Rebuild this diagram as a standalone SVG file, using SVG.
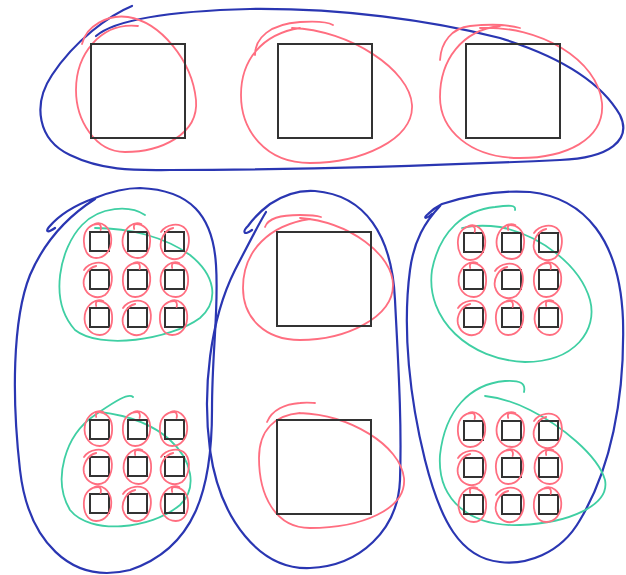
<svg xmlns="http://www.w3.org/2000/svg" xmlns:xlink="http://www.w3.org/1999/xlink" width="626" height="575" viewBox="0 0 626 575">
<style>
.sq{fill:none;stroke:#333;stroke-width:2}
.b{fill:none;stroke:#2a36b2;stroke-width:2.2;stroke-linecap:round;stroke-linejoin:round}
.r{fill:none;stroke:#ff6e80;stroke-width:1.8;stroke-linecap:round}
.t{fill:none;stroke:#3fcfa3;stroke-width:1.8;stroke-linecap:round}
</style>
<defs>
<path id="sl1" class="r" d="M-3.5,-17 C3.5,-20 12.3,-14 13.2,-3 C14,9 7,17 -1.8,17 C-10.6,17 -15,8 -14,-3 C-13.2,-12 -7,-17 0,-17 C2.6,-17 3.5,-14 2.6,-11"/>
<path id="sl2" class="r" d="M-14,-10 C-8.8,-18 4.4,-20 10.6,-13 C15.8,-6 15,8 7,15 C-0.9,20 -11.4,16 -14,6 C-15.8,-2 -10.6,-12 -1.8,-14"/>
<path id="sl3" class="r" d="M5.3,-17 C-1.8,-20 -11.4,-14 -13.2,-3 C-15,9 -7,17 1.8,17 C10.6,17 15,8 14,-3 C13.2,-12 7,-17 0,-17 C-1.8,-17 -2.6,-15 -1.8,-12"/>
</defs>
<rect width="626" height="575" fill="#fff"/>

<g id="connectors">
<!-- blue groupings -->
<path class="b" d="M132,6 C110,15 75,40 52,75 C32,105 38,140 70,155 C105,172 140,170 170,170 C300,170 450,165 560,160 C610,158 632,140 620,115 C600,80 555,55 500,38 C430,20 340,8 250,9 C170,11 115,20 96,36"/>
<path class="b" d="M55,228 C48,233 45,232 49,227 C60,214 78,204 95,198 C110,192 125,188 140,188 C190,190 213,215 216,265 C219,310 212,350 212,410 C212,490 195,548 130,570 C70,585 28,540 20,470 C12,400 12,320 30,275 C45,240 70,215 95,199"/>
<path class="b" d="M252,230 C244,236 242,232 248,226 C255,216 262,210 270,204 C285,194 300,190 315,191 C365,195 392,235 395,300 C398,360 402,420 400,480 C398,530 360,566 310,568 C260,570 220,520 210,450 C202,390 210,320 235,270 C248,245 258,225 266,212"/>
<path class="b" d="M432,214 C425,220 423,218 428,214 C432,210 436,207 442,204 C470,195 500,190 530,192 C585,198 620,240 623,320 C625,400 610,470 580,520 C560,555 525,565 500,562 C460,558 440,520 425,460 C410,400 402,330 410,270 C414,240 425,222 440,206"/>
<!-- teal groupings -->
<path class="t" d="M145,215 C130,205 100,206 82,225 C60,248 48,300 75,330 C100,350 170,340 200,318 C220,300 215,275 190,255 C165,237 130,228 95,228"/>
<path class="t" d="M133,397 C128,392 110,405 95,415 C65,435 52,480 70,510 C90,535 150,530 180,505 C198,488 192,460 170,440 C150,422 125,415 100,412"/>
<path class="t" d="M515,210 C516,205 510,205 495,207 C465,210 440,230 432,270 C425,320 470,360 525,362 C575,362 598,330 590,300 C580,265 540,235 500,227 C485,225 470,226 462,228"/>
<path class="t" d="M524,392 C526,383 520,380 505,381 C470,384 445,410 440,455 C437,500 470,527 520,525 C570,523 610,505 605,480 C598,455 560,425 530,410 C510,400 495,397 485,396"/>
<!-- red big loops -->
<path class="r" d="M82,44 C86,26 108,14 128,17 C160,22 192,60 196,100 C199,135 160,152 125,152 C95,152 76,120 76,90 C76,55 100,22 138,26"/>
<path class="r" d="M255,55 C255,38 270,24 300,22 C315,21 328,22 333,25 M292,28 C350,30 410,70 412,105 C414,140 360,163 310,163 C265,163 241,130 241,95 C241,60 262,34 300,28"/>
<path class="r" d="M440,60 C441,42 452,28 470,26 C490,24 510,25 520,28 M480,28 C540,25 598,60 602,103 C605,140 565,158 520,158 C470,158 440,130 440,97 C440,60 462,30 500,26"/>
<path class="r" d="M265,227 C268,218 280,215 300,215 C310,215 318,216 321,217 M300,218 C350,222 393,255 393,285 C393,318 345,340 300,340 C265,340 243,318 243,288 C243,250 270,225 310,219"/>
<path class="r" d="M267,422 C272,410 285,404 300,403 C308,402 313,403 315,403 M300,413 C350,415 400,445 404,478 C407,510 360,528 310,528 C275,528 259,495 259,458 C259,430 275,415 300,413"/>
</g>

<g id="top-nodes">
<rect class="sq" x="91" y="44" width="94" height="94"/>
<rect class="sq" x="278" y="44" width="94" height="94"/>
<rect class="sq" x="466" y="44" width="94" height="94"/>
</g>

<g id="middle-nodes">
<rect class="sq" x="277" y="232" width="94" height="94"/>
<rect class="sq" x="277" y="420" width="94" height="94"/>
</g>

<g id="left-upper-grid">
<rect class="sq" x="90" y="232" width="19" height="19"/>
<rect class="sq" x="128" y="232" width="19" height="19"/>
<rect class="sq" x="165" y="232" width="19" height="19"/>
<rect class="sq" x="90" y="270" width="19" height="19"/>
<rect class="sq" x="128" y="270" width="19" height="19"/>
<rect class="sq" x="165" y="270" width="19" height="19"/>
<rect class="sq" x="90" y="308" width="19" height="19"/>
<rect class="sq" x="128" y="308" width="19" height="19"/>
<rect class="sq" x="165" y="308" width="19" height="19"/>
<use xlink:href="#sl1" x="98" y="241"/>
<use xlink:href="#sl3" x="136" y="241"/>
<use xlink:href="#sl2" x="175" y="242"/>
<use xlink:href="#sl2" x="98" y="280"/>
<use xlink:href="#sl1" x="137" y="280"/>
<use xlink:href="#sl3" x="174" y="280"/>
<use xlink:href="#sl3" x="98" y="318"/>
<use xlink:href="#sl2" x="137" y="318"/>
<use xlink:href="#sl1" x="174" y="318"/>
</g>

<g id="left-lower-grid">
<rect class="sq" x="90" y="420" width="19" height="19"/>
<rect class="sq" x="128" y="420" width="19" height="19"/>
<rect class="sq" x="165" y="420" width="19" height="19"/>
<rect class="sq" x="90" y="457" width="19" height="19"/>
<rect class="sq" x="128" y="457" width="19" height="19"/>
<rect class="sq" x="165" y="457" width="19" height="19"/>
<rect class="sq" x="90" y="494" width="19" height="19"/>
<rect class="sq" x="128" y="494" width="19" height="19"/>
<rect class="sq" x="165" y="494" width="19" height="19"/>
<use xlink:href="#sl3" x="98" y="429"/>
<use xlink:href="#sl1" x="137" y="429"/>
<use xlink:href="#sl1" x="174" y="429"/>
<use xlink:href="#sl2" x="98" y="467"/>
<use xlink:href="#sl3" x="137" y="467"/>
<use xlink:href="#sl2" x="175" y="467"/>
<use xlink:href="#sl1" x="98" y="504"/>
<use xlink:href="#sl2" x="137" y="504"/>
<use xlink:href="#sl3" x="174" y="504"/>
</g>

<g id="right-upper-grid">
<rect class="sq" x="464" y="233" width="19" height="19"/>
<rect class="sq" x="502" y="233" width="19" height="19"/>
<rect class="sq" x="539" y="233" width="19" height="19"/>
<rect class="sq" x="464" y="270" width="19" height="19"/>
<rect class="sq" x="502" y="270" width="19" height="19"/>
<rect class="sq" x="539" y="270" width="19" height="19"/>
<rect class="sq" x="464" y="308" width="19" height="19"/>
<rect class="sq" x="502" y="308" width="19" height="19"/>
<rect class="sq" x="539" y="308" width="19" height="19"/>
<use xlink:href="#sl1" x="472" y="243"/>
<use xlink:href="#sl3" x="510" y="242"/>
<use xlink:href="#sl2" x="548" y="243"/>
<use xlink:href="#sl3" x="472" y="280"/>
<use xlink:href="#sl2" x="509" y="281"/>
<use xlink:href="#sl1" x="548" y="280"/>
<use xlink:href="#sl2" x="472" y="318"/>
<use xlink:href="#sl1" x="510" y="318"/>
<use xlink:href="#sl3" x="548" y="318"/>
</g>

<g id="right-lower-grid">
<rect class="sq" x="464" y="421" width="19" height="19"/>
<rect class="sq" x="502" y="421" width="19" height="19"/>
<rect class="sq" x="539" y="421" width="19" height="19"/>
<rect class="sq" x="464" y="458" width="19" height="19"/>
<rect class="sq" x="502" y="458" width="19" height="19"/>
<rect class="sq" x="539" y="458" width="19" height="19"/>
<rect class="sq" x="464" y="495" width="19" height="19"/>
<rect class="sq" x="502" y="495" width="19" height="19"/>
<rect class="sq" x="539" y="495" width="19" height="19"/>
<use xlink:href="#sl1" x="472" y="430"/>
<use xlink:href="#sl3" x="510" y="430"/>
<use xlink:href="#sl2" x="548" y="431"/>
<use xlink:href="#sl2" x="472" y="468"/>
<use xlink:href="#sl1" x="510" y="467"/>
<use xlink:href="#sl3" x="548" y="467"/>
<use xlink:href="#sl3" x="472" y="505"/>
<use xlink:href="#sl2" x="510" y="505"/>
<use xlink:href="#sl1" x="548" y="505"/>
</g>
</svg>
